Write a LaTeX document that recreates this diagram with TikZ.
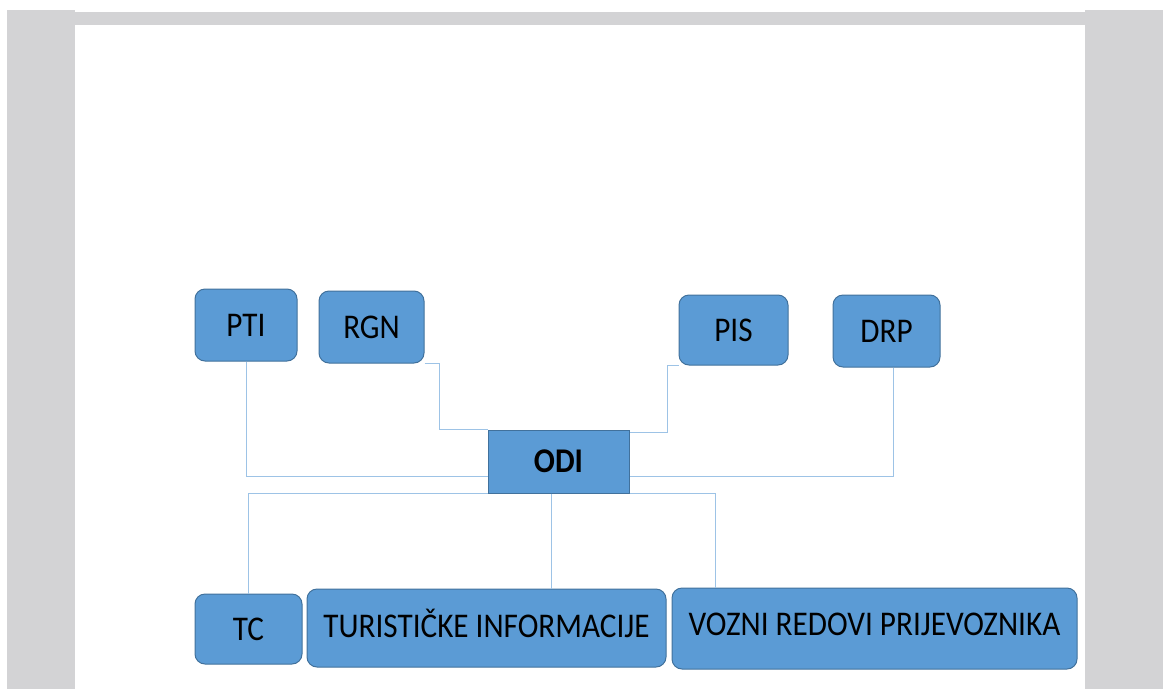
\documentclass[tikz,border=0pt]{standalone}
\usepackage{fontspec}
\newfontfamily\boxfont{Carlito}[FakeStretch=0.9]
\definecolor{boxblue}{RGB}{91,155,213}
\definecolor{boxedge}{RGB}{65,113,156}
\definecolor{wireblue}{RGB}{157,195,230}
\definecolor{pagegray}{RGB}{211,211,213}
\tikzset{
  box/.style={draw=boxedge, fill=boxblue, line width=0.75pt, rounded corners=7.5pt, inner sep=0pt,
    font=\boxfont\fontsize{26}{30}\selectfont, text depth=0pt},
  wire/.style={draw=wireblue, line width=0.75pt}
}
\begin{document}
\begin{tikzpicture}[x=0.75pt,y=0.75pt,yscale=-1,xscale=1]
\useasboundingbox (0,0) rectangle (1163,689);

%Shape: page margins
\fill [pagegray] (7,10) rectangle (75,689);
\fill [pagegray] (1085,10) rectangle (1163,689);
\fill [pagegray] (75,12) rectangle (1085,25);

% Top boxes
\node [box, minimum width=76.5pt, minimum height=54pt] (pti) at (246,325) {PTI};
\node [box, minimum width=78.75pt, minimum height=54pt] (rgn) at (371.5,327) {RGN};
\node [box, minimum width=81.75pt, minimum height=52.5pt] (pis) at (733.5,330) {PIS};
\node [box, minimum width=80.25pt, minimum height=54pt] (drp) at (886.5,331) {DRP};
% Centre box
\node [box, sharp corners, minimum width=105.75pt, minimum height=47.25pt] (odi) at (558.5,461.5) {\bfseries ODI};
% Bottom boxes
\node [box, minimum width=80.25pt, minimum height=52.5pt] (tc) at (248.5,629) {TC};
\node [box, minimum width=269.25pt, minimum height=58.5pt, text depth=7pt] (tur) at (486.5,628) {TURISTIČKE INFORMACIJE};
\node [box, minimum width=303.75pt, minimum height=60.75pt, text depth=7pt] (voz) at (874.5,628.5) {VOZNI REDOVI PRIJEVOZNIKA};

%Straight Lines
\draw [wire] (pti.south) |- ([yshift=11.6pt]odi.west);
\draw [wire] (rgn.south east) -- ++(15,0) |- (odi.north west);
\draw [wire] (pis.south west) -- ++(-11,0) |- ([yshift=2.25pt]odi.north east);
\draw [wire] ([xshift=5.6pt]drp.south) |- ([yshift=11.6pt]odi.east);
\draw [wire] (odi.south west) -| (tc.north);
\draw [wire] ([xshift=-4.9pt]odi.south) -- ([xshift=-4.9pt]odi.south |- tur.north);
\draw [wire] (odi.south east) -| ([xshift=-118.9pt]voz.north);

\end{tikzpicture}
\end{document}
